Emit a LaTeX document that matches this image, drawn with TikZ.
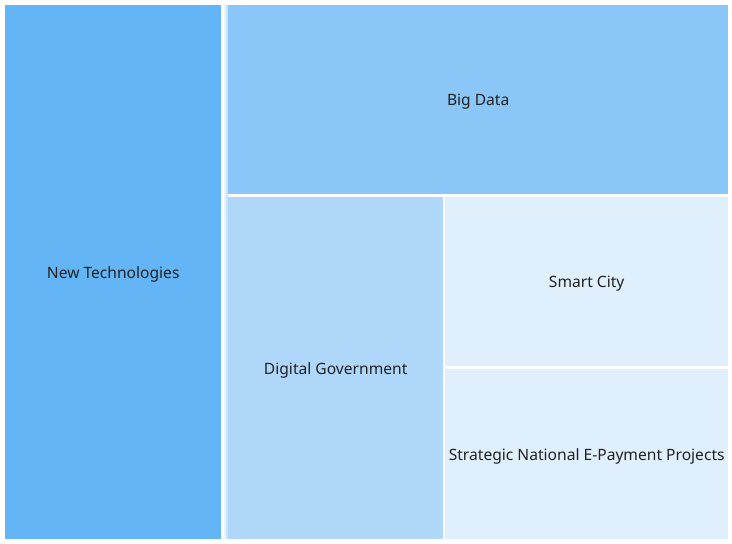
\documentclass[tikz,border=0pt]{standalone}
\usepackage{fontspec}
\setmainfont{Noto Sans}
\definecolor{cA}{RGB}{100,181,246}
\definecolor{cB}{RGB}{138,199,248}
\definecolor{cC}{RGB}{174,215,250}
\definecolor{cD}{RGB}{224,239,252}
\definecolor{txt}{RGB}{33,33,33}
\definecolor{gapA}{RGB}{232,244,254}
\definecolor{gapB}{RGB}{200,228,252}
\newcommand{\lbl}[1]{\raisebox{-2pt}[\height][\depth]{#1}}
\begin{document}
\begin{tikzpicture}[x=1pt,y=-1pt,
  cell/.style={draw=none,inner sep=0pt,anchor=north west,text=txt,font=\fontsize{15.6}{18}\selectfont,align=center}]
\useasboundingbox[fill=white] (0,0) rectangle (732,544);
% gap shading strips
\fill[gapA] (224,5) rectangle (226,539);
\fill[gapB] (226,5) rectangle (228,539);
\node[cell,fill=cA,minimum width=216pt,minimum height=534pt] (nt) at (5,5) {\lbl{New Technologies}};
\node[cell,fill=cB,minimum width=500pt,minimum height=189pt] (bd) at (228,5) {\lbl{Big Data}};
\node[cell,fill=cC,minimum width=215pt,minimum height=342pt] (dg) at (228,197) {\lbl{Digital Government}};
\node[cell,fill=cD,minimum width=283pt,minimum height=169pt] (sc) at (445,197) {\lbl{Smart City}};
\node[cell,fill=cD,minimum width=283pt,minimum height=170pt] (sn) at (445,369) {\lbl{Strategic National E-Payment Projects}};
\end{tikzpicture}
\end{document}
